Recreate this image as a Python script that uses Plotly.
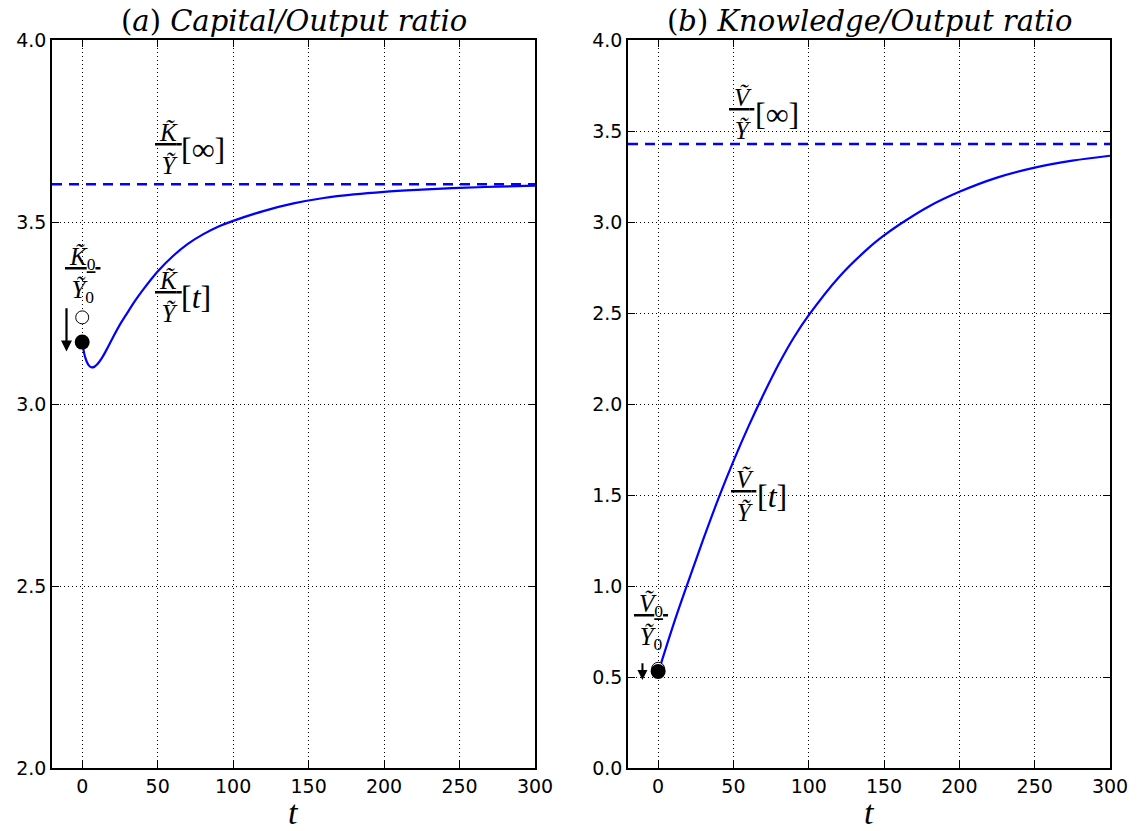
import plotly.graph_objects as go
from plotly.subplots import make_subplots

# ---- data ----
t_k = [0, 2, 4, 6, 8, 10, 13, 16, 20, 25, 30, 35, 40, 50, 60, 70, 80, 90, 100,
       120, 140, 160, 180, 200, 225, 250, 275, 300]
ky = [3.170, 3.128, 3.108, 3.101, 3.102, 3.109, 3.126, 3.148, 3.180, 3.218, 3.251,
      3.283, 3.312, 3.364, 3.406, 3.440, 3.466, 3.487, 3.503, 3.530, 3.551, 3.566,
      3.576, 3.583, 3.589, 3.594, 3.597, 3.600]
ky_inf = 3.604
ky0_before = 3.238   # open circle
ky0_after = 3.170    # filled dot

t_v = [0, 10, 20, 30, 40, 50, 60, 70, 80, 90, 100, 120, 140, 150, 160, 180, 200,
       225, 250, 275, 300]
vy = [0.523, 0.784, 1.024, 1.257, 1.480, 1.686, 1.877, 2.053, 2.218, 2.364, 2.488,
      2.697, 2.859, 2.926, 2.985, 3.087, 3.166, 3.244, 3.299, 3.337, 3.364]
vy_inf = 3.429
vy0_before = 0.545
vy0_after = 0.530

x_ticks = [0, 50, 100, 150, 200, 250, 300]
y_ticks_a = [2.0, 2.5, 3.0, 3.5, 4.0]
y_ticks_b = [0.0, 0.5, 1.0, 1.5, 2.0, 2.5, 3.0, 3.5, 4.0]
x_range = [-20, 300]

BLUE = "#0000ff"
SERIF = "Liberation Serif"

fig = make_subplots(rows=1, cols=2)

for col, tt, yy, yinf, y0b, y0a in [(1, t_k, ky, ky_inf, ky0_before, ky0_after),
                                     (2, t_v, vy, vy_inf, vy0_before, vy0_after)]:
    fig.add_trace(go.Scatter(x=[x_range[0], x_range[1]], y=[yinf, yinf], mode="lines",
                             line=dict(color=BLUE, width=2.5, dash="10px,7px"),
                             showlegend=False, hoverinfo="skip"), row=1, col=col)
    fig.add_trace(go.Scatter(x=tt, y=yy, mode="lines",
                             line=dict(color=BLUE, width=2.2, shape="spline", smoothing=1.0),
                             showlegend=False), row=1, col=col)
    fig.add_trace(go.Scatter(x=[0], y=[y0b], mode="markers",
                             marker=dict(size=13, color="white", line=dict(color="black", width=1)),
                             showlegend=False), row=1, col=col)
    fig.add_trace(go.Scatter(x=[0], y=[y0a], mode="markers",
                             marker=dict(size=15, color="black", line=dict(color="black", width=0)),
                             showlegend=False), row=1, col=col)

axis_common = dict(showline=True, linecolor="black", linewidth=1.6, mirror="ticks",
                   ticks="inside", ticklen=7, tickwidth=1.2, tickcolor="black",
                   showgrid=True, gridcolor="black", gridwidth=1, griddash="1px,3px",
                   zeroline=False, tickfont=dict(family="DejaVu Sans", size=19, color="black"),
                   automargin=False)

fig.update_xaxes(range=x_range, tickvals=x_ticks, ticktext=[str(v) for v in x_ticks], **axis_common)
fig.update_yaxes(**axis_common)
fig.update_yaxes(range=[2.0, 4.0], tickvals=y_ticks_a, ticktext=[f"{v:.1f}" for v in y_ticks_a], row=1, col=1)
fig.update_yaxes(range=[0.0, 4.0], tickvals=y_ticks_b, ticktext=[f"{v:.1f}" for v in y_ticks_b], row=1, col=2)

W, H = 1143, 831
fig.update_layout(
    width=W, height=H, margin=dict(l=0, r=0, t=0, b=0),
    paper_bgcolor="white", plot_bgcolor="white",
    xaxis=dict(domain=[52 / W, 535 / W]),
    xaxis2=dict(domain=[628 / W, 1110 / W]),
    yaxis=dict(domain=[1 - 768 / H, 1 - 40 / H]),
    yaxis2=dict(domain=[1 - 768 / H, 1 - 40 / H]),
)

FS = 25

def label(xref, yref, x, y, sym, bracket):
    frac = f"<u>&#8239;<i>{sym}&#771;</i>&#8239;</u><br><i>Y&#771;</i>"
    fig.add_annotation(xref=xref, yref=yref, x=x, y=y, text=frac, showarrow=False,
                       xanchor="left", yanchor="middle", align="center",
                       font=dict(family=SERIF, size=FS, color="black"))
    fig.add_annotation(xref=xref, yref=yref, x=x, y=y, text=bracket, showarrow=False,
                       xanchor="left", yanchor="middle", xshift=26,
                       font=dict(family=SERIF, size=32, color="black"))

def label0(xref, yref, x, y, sym):
    txt = f"<u>&#8239;<i>{sym}&#771;</i><sub>0</sub>&#8239;</u><br><i>Y&#771;</i><sub>0</sub>"
    fig.add_annotation(xref=xref, yref=yref, x=x, y=y, text=txt, showarrow=False,
                       xanchor="center", yanchor="middle", align="center",
                       font=dict(family=SERIF, size=FS, color="black"))

# left panel labels
label("x", "y", 47, 3.70, "K", "[∞]")
label("x", "y", 47, 3.295, "K", "[<i>t</i>]")
label0("x", "y", 0, 3.354, "K")
# right panel labels
label("x2", "y2", 46, 3.595, "V", "[∞]")
label("x2", "y2", 47, 1.495, "V", "[<i>t</i>]")
label0("x2", "y2", -5, 0.80, "V")

# arrows
fig.add_annotation(xref="x", yref="y", axref="x", ayref="y", x=-10.4, y=3.144, ax=-10.4, ay=3.267,
                   showarrow=True, arrowhead=2, arrowsize=1, arrowwidth=2.2, arrowcolor="black", text="")
fig.add_annotation(xref="x2", yref="y2", axref="x2", ayref="y2", x=-10.4, y=0.484, ax=-10.4, ay=0.584,
                   showarrow=True, arrowhead=2, arrowsize=1, arrowwidth=2.0, arrowcolor="black", text="")

# titles
TSER = "DejaVu Serif"
fig.add_annotation(xref="paper", yref="paper", x=(52 + 535) / 2 / W, y=1 - 21 / H,
                   text="(<i>a</i>) <i>Capital/Output ratio</i>", showarrow=False,
                   xanchor="center", yanchor="middle", font=dict(family=TSER, size=29, color="black"))
fig.add_annotation(xref="paper", yref="paper", x=(628 + 1110) / 2 / W, y=1 - 21 / H,
                   text="(<i>b</i>) <i>Knowledge/Output ratio</i>", showarrow=False,
                   xanchor="center", yanchor="middle", font=dict(family=TSER, size=29, color="black"))
# x axis titles
for xc in [(52 + 535) / 2 / W, (628 + 1110) / 2 / W]:
    fig.add_annotation(xref="paper", yref="paper", x=xc, y=1 - 812 / H, text="<i>t</i>",
                       showarrow=False, xanchor="center", yanchor="middle",
                       font=dict(family=SERIF, size=34, color="black"))

fig.write_html("out.html")
